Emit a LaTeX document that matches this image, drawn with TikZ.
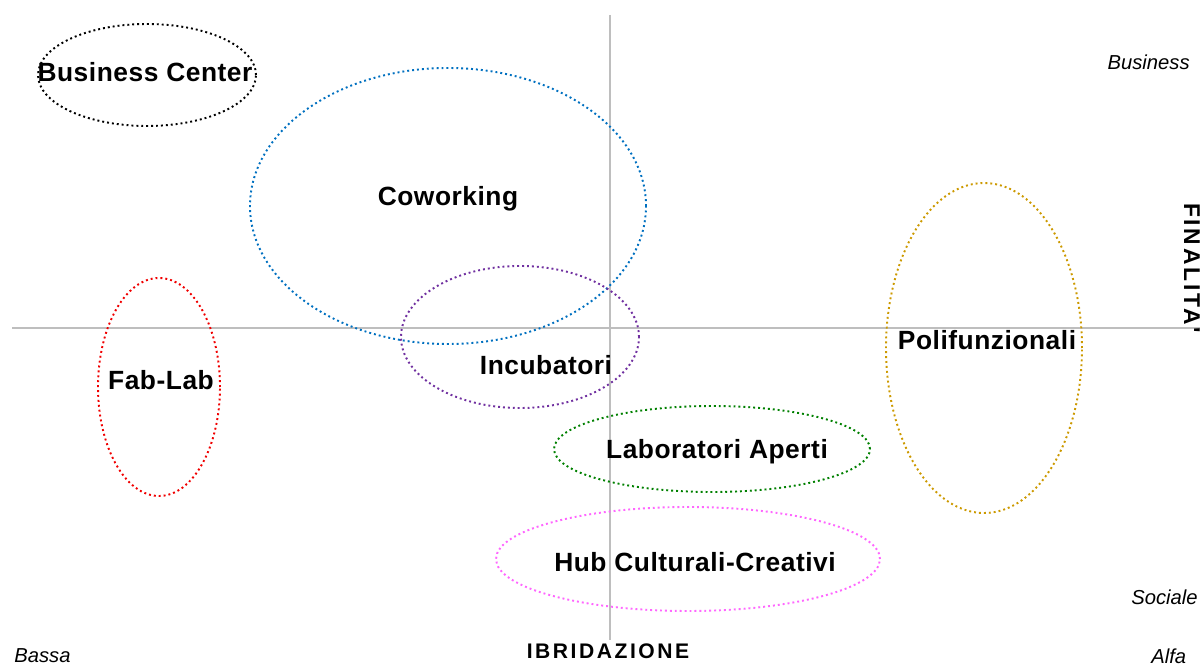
\documentclass[tikz,border=0pt]{standalone}
\usepackage{fontspec}
\setmainfont{Liberation Sans}
\newfontfamily\lblfont[LetterSpace=2]{Liberation Sans}
\newfontfamily\axfont[LetterSpace=12]{Liberation Sans}
\usetikzlibrary{shapes.geometric}
\definecolor{cblue}{RGB}{0,112,192}
\definecolor{cpurple}{RGB}{112,48,160}
\definecolor{cred}{RGB}{240,0,0}
\definecolor{cgold}{RGB}{204,153,0}
\definecolor{cgreen}{RGB}{0,128,0}
\definecolor{cpink}{RGB}{255,102,255}
\definecolor{caxis}{RGB}{190,190,190}
\tikzset{
  oval/.style={draw=#1, ellipse, inner sep=0pt, line width=1.1pt, dash pattern=on 1.1pt off 1.7pt},
  lbl/.style={font=\lblfont\fontsize{15}{18}\selectfont\bfseries, inner sep=0pt},
  axlbl/.style={font=\fontsize{11.5}{14}\selectfont\itshape, inner sep=0pt},
  axtitle/.style={font=\axfont\fontsize{12}{14}\selectfont\bfseries, inner sep=0pt},
  axline/.style={draw=caxis, line width=0.6pt}
}
\begin{document}
\begin{tikzpicture}[x=0.02cm,y=-0.02cm]
\useasboundingbox (0,0) rectangle (1200,665);
% axes
\coordinate (vt) at (610,15);
\coordinate (vb) at (610,640);
\coordinate (hl) at (12,328);
\coordinate (hr) at (1200,328);
\draw[axline] (vt) -- (vb);
\draw[axline] (hl) -- (hr);
% ovals
\node[oval=black, minimum width=218*0.02cm, minimum height=102*0.02cm] (eBC) at (147,75) {};
\node[oval=cblue, minimum width=396*0.02cm, minimum height=276*0.02cm] (eCW) at (448,206) {};
\node[oval=cpurple, minimum width=238*0.02cm, minimum height=142*0.02cm] (eIN) at (520,337) {};
\node[oval=cred, minimum width=122*0.02cm, minimum height=218*0.02cm] (eFL) at (159,387) {};
\node[oval=cgold, minimum width=196*0.02cm, minimum height=330*0.02cm] (ePF) at (984,348) {};
\node[oval=cgreen, minimum width=316*0.02cm, minimum height=86*0.02cm] (eLA) at (712,449) {};
\node[oval=cpink, minimum width=384*0.02cm, minimum height=104*0.02cm] (eHB) at (688,559) {};
% labels
\node[lbl] (tBC) at (145,72) {Business Center};
\node[lbl] (tCW) at (448,199) {Coworking};
\node[lbl] (tIN) at (546,365) {Incubatori};
\node[lbl] (tFL) at (161,380) {Fab-Lab};
\node[lbl] (tPF) at (987,340) {Polifunzionali};
\node[lbl] (tLA) at (717,452) {Laboratori Aperti};
\node[lbl] (tHB) at (695,562) {Hub Culturali-Creativi};
% axis labels
\node[axlbl, anchor=east] (lBus) at (1190,62) {Business};
\node[axlbl, anchor=east] (lSoc) at (1198,597) {Sociale};
\node[axlbl, anchor=west] (lBas) at (14,656) {Bassa};
\node[axlbl, anchor=west] (lAlt) at (1151,656) {Alfa};
\node[axtitle] (lIB) at (608,651) {IBRIDAZIONE};
\node[axtitle, font=\axfont\fontsize{13}{15}\selectfont\bfseries, rotate=-90] (lFI) at (1192,268) {FINALITA'};
\end{tikzpicture}
\end{document}
